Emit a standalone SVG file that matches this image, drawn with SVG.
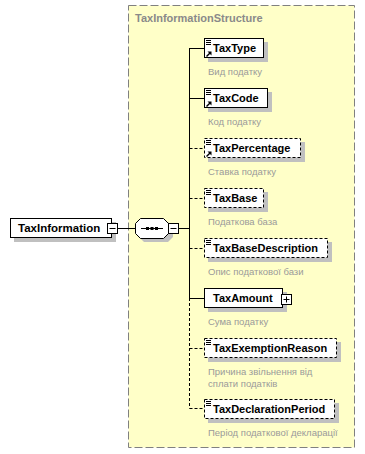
<svg xmlns="http://www.w3.org/2000/svg" width="365" height="454" viewBox="0 0 365 454">
  <style>
    .name { font-family: "Liberation Sans", Arial, sans-serif; font-size: 11px; font-weight: bold; fill: #000; }
    .doc { font-family: "Liberation Sans", Arial, sans-serif; font-size: 9.5px; fill: #9a9a9a; }
    .title { font-family: "Liberation Sans", Arial, sans-serif; font-size: 11px; font-weight: bold; fill: #8a8a8a; }
    .box { fill: #fff; stroke: #000; stroke-width: 1; }
    .opt { stroke-dasharray: 3 2; }
    .shadow { fill: #c0c0c0; }
    .line { stroke: #000; stroke-width: 1; fill: none; }
    .dash { stroke-dasharray: 3 2; }
  </style>
  <defs>
    <g id="lines-icon">
      <path d="M0 0.5h5M0 2.5h5M0 4.5h5" stroke="#000" stroke-width="1"/>
    </g>
    <g id="ref-icon">
      <path d="M0.5 5.5L4.5 1.5" stroke="#000" stroke-width="1.5"/>
      <path d="M1.5 0.5h4v4z" fill="#000"/>
    </g>
    <g id="minus">
      <rect x="0.5" y="0.5" width="10" height="10" fill="#fff" stroke="#000"/>
      <path d="M2.5 5.5h6" stroke="#000"/>
    </g>
    <g id="plus">
      <rect x="0.5" y="0.5" width="10" height="10" fill="#fff" stroke="#000"/>
      <path d="M2.5 5.5h6M5.5 2.5v6" stroke="#000"/>
    </g>
  </defs>

  <!-- complex type area -->
  <g id="TaxInformationStructure">
    <rect x="128.5" y="5.5" width="226" height="442" fill="#ffffc8" stroke="#808080" stroke-dasharray="8 3"/>
    <text class="title" x="135" y="22">TaxInformationStructure</text>
  </g>

  <!-- connectors -->
  <g id="connectors">
    <path class="line" d="M118 228.5H135"/>
    <path class="line" d="M179 228.5H189.5"/>
    <path class="line" d="M189.5 48V298"/>
    <path class="line dash" d="M189.5 298V408.5"/>
    <path class="line" d="M189.5 48.5H204"/>
    <path class="line" d="M189.5 98.5H204"/>
    <path class="line dash" d="M189.5 148.5H204"/>
    <path class="line dash" d="M189.5 198.5H204"/>
    <path class="line dash" d="M189.5 248.5H204"/>
    <path class="line" d="M189.5 298.5H204"/>
    <path class="line dash" d="M189.5 348.5H204"/>
    <path class="line dash" d="M189.5 408.5H204"/>
  </g>

  <!-- root element -->
  <g id="TaxInformation">
    <rect class="shadow" x="14" y="222" width="102" height="20"/>
    <rect class="box" x="10.5" y="218.5" width="101" height="19"/>
    <text class="name" x="18" y="232" style="font-size:11.5px">TaxInformation</text>
    <use href="#minus" x="107" y="223"/>
  </g>

  <!-- sequence compositor -->
  <g id="sequence">
    <path class="shadow" d="M144 222H168L173 227V237L168 242H144L139 237V227Z"/>
    <path d="M140.5 218.5H163.5L168.5 223.5V233.5L163.5 238.5H140.5L135.5 233.5V223.5Z" fill="#fff" stroke="#000"/>
    <path d="M141 228.5H163" stroke="#000"/>
    <rect x="146" y="227" width="3" height="3" fill="#000"/>
    <rect x="150.5" y="227" width="3" height="3" fill="#000"/>
    <rect x="155" y="227" width="3" height="3" fill="#000"/>
    <use href="#minus" x="168" y="223"/>
  </g>

  <g id="TaxType">
    <rect class="shadow" x="208" y="42" width="60" height="20"/>
    <rect class="box" x="204.5" y="38.5" width="59" height="19"/>
    <use href="#lines-icon" x="206" y="40"/>
    <use href="#ref-icon" x="206" y="51"/>
    <text class="name" x="213" y="52">TaxType</text>
    <text class="doc" x="208" y="75">Вид податку</text>
  </g>

  <g id="TaxCode">
    <rect class="shadow" x="208" y="92" width="64" height="20"/>
    <rect class="box" x="204.5" y="88.5" width="63" height="19"/>
    <use href="#lines-icon" x="206" y="90"/>
    <use href="#ref-icon" x="206" y="101"/>
    <text class="name" x="213" y="102">TaxCode</text>
    <text class="doc" x="208" y="125">Код податку</text>
  </g>

  <g id="TaxPercentage">
    <rect class="shadow" x="208" y="142" width="97" height="20"/>
    <rect class="box opt" x="204.5" y="138.5" width="96" height="19"/>
    <use href="#lines-icon" x="206" y="140"/>
    <use href="#ref-icon" x="206" y="151"/>
    <text class="name" x="213" y="152">TaxPercentage</text>
    <text class="doc" x="208" y="175">Ставка податку</text>
  </g>

  <g id="TaxBase">
    <rect class="shadow" x="208" y="192" width="60" height="20"/>
    <rect class="box opt" x="204.5" y="188.5" width="59" height="19"/>
    <use href="#lines-icon" x="206" y="190"/>
    <text class="name" x="213" y="202">TaxBase</text>
    <text class="doc" x="208" y="225">Податкова база</text>
  </g>

  <g id="TaxBaseDescription">
    <rect class="shadow" x="208" y="242" width="124" height="20"/>
    <rect class="box opt" x="204.5" y="238.5" width="123" height="19"/>
    <use href="#lines-icon" x="206" y="240"/>
    <text class="name" x="213" y="252">TaxBaseDescription</text>
    <text class="doc" x="208" y="275">Опис податкової бази</text>
  </g>

  <g id="TaxAmount">
    <rect class="shadow" x="208" y="292" width="79" height="20"/>
    <rect class="box" x="204.5" y="288.5" width="78" height="19"/>
    <text class="name" x="213" y="302">TaxAmount</text>
    <use href="#plus" x="281" y="294"/>
    <text class="doc" x="208" y="325">Сума податку</text>
  </g>

  <g id="TaxExemptionReason">
    <rect class="shadow" x="208" y="342" width="133" height="20"/>
    <rect class="box opt" x="204.5" y="338.5" width="132" height="19"/>
    <use href="#lines-icon" x="206" y="340"/>
    <text class="name" x="213" y="352">TaxExemptionReason</text>
    <text class="doc" x="208" y="375">Причина звільнення від</text>
    <text class="doc" x="208" y="387">сплати податків</text>
  </g>

  <g id="TaxDeclarationPeriod">
    <rect class="shadow" x="208" y="403" width="131" height="20"/>
    <rect class="box opt" x="204.5" y="399.5" width="130" height="19"/>
    <use href="#lines-icon" x="206" y="401"/>
    <text class="name" x="213" y="413">TaxDeclarationPeriod</text>
    <text class="doc" x="208" y="436">Період податкової декларації</text>
  </g>
</svg>
